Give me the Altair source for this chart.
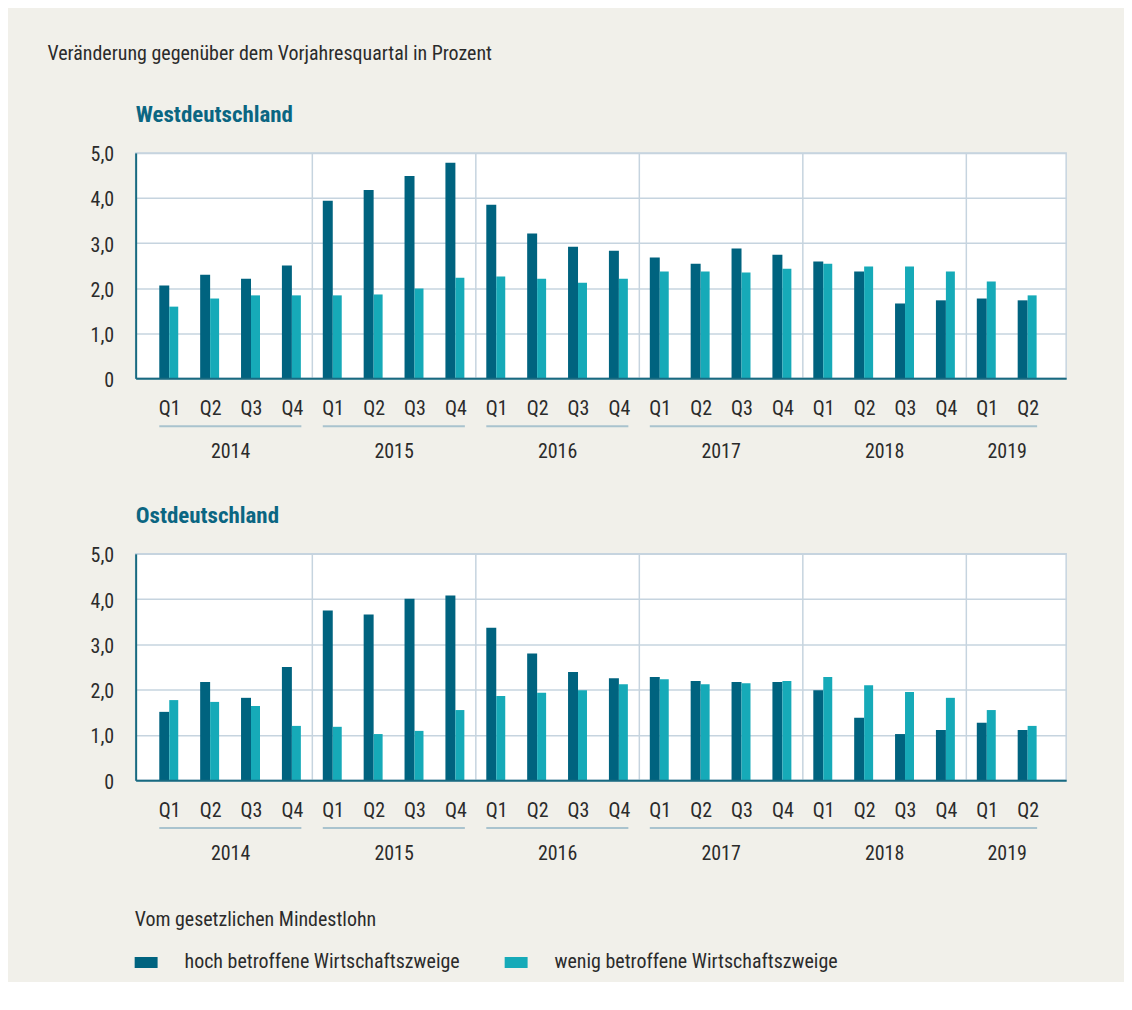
import altair as alt
import pandas as pd

# ---- data ----
years = ["2014"] * 4 + ["2015"] * 4 + ["2016"] * 4 + ["2017"] * 4 + ["2018"] * 4 + ["2019"] * 2
quarters = ["Q1", "Q2", "Q3", "Q4"] * 5 + ["Q1", "Q2"]

west_hoch = [2.06, 2.30, 2.21, 2.50, 3.94, 4.18, 4.49, 4.78, 3.85, 3.21, 2.92, 2.83,
             2.68, 2.54, 2.88, 2.74, 2.59, 2.37, 1.66, 1.73, 1.77, 1.73]
west_wenig = [1.59, 1.77, 1.84, 1.84, 1.84, 1.86, 1.99, 2.23, 2.26, 2.21, 2.12, 2.21,
              2.37, 2.37, 2.35, 2.43, 2.54, 2.48, 2.48, 2.37, 2.15, 1.84]
ost_hoch = [1.51, 2.17, 1.82, 2.50, 3.75, 3.66, 4.01, 4.08, 3.37, 2.80, 2.39, 2.25,
            2.28, 2.19, 2.17, 2.17, 1.99, 1.38, 1.02, 1.11, 1.27, 1.11]
ost_wenig = [1.77, 1.73, 1.64, 1.20, 1.18, 1.02, 1.09, 1.55, 1.86, 1.93, 1.99, 2.12,
             2.23, 2.12, 2.14, 2.19, 2.28, 2.10, 1.95, 1.82, 1.55, 1.20]

series_names = ["hoch betroffene Wirtschaftszweige", "wenig betroffene Wirtschaftszweige"]
y_ticks = [0, 1, 2, 3, 4, 5]
underline_groups = [["2014"], ["2015"], ["2016"], ["2017", "2018", "2019"]]

main_title = "Veränderung gegenüber dem Vorjahresquartal in Prozent"
panel_titles = ["Westdeutschland", "Ostdeutschland"]
legend_title = "Vom gesetzlichen Mindestlohn"

# ---- style ----
FONT = "Roboto Condensed, Roboto, sans-serif"
DARK = "#00637f"
LIGHT = "#16aab8"
TITLE_C = "#0b6682"
TEXT = "#2b2b2b"
GRID = "#c6d4df"
ULINE = "#a9c3ce"
AXIS_C = "#186a80"
BG = "#f1f0ea"
W = 933

n = len(quarters)
q_expr = "[" + ",".join("'%s'" % q for q in quarters) + "][datum.value]"
y_expr = "datum.value == 0 ? '0' : replace(format(datum.value, '.1f'), '.', ',')"

uniq_years = list(dict.fromkeys(years))
year_df = pd.DataFrame({
    "year": uniq_years,
    "mid": [sum(i for i in range(n) if years[i] == y) / years.count(y) for y in uniq_years],
})
sep_df = pd.DataFrame({"pos": [i - 0.5 for i in range(1, n) if years[i] != years[i - 1]]})
ul_df = pd.DataFrame({
    "start": [min(i for i in range(n) if years[i] in g) for g in underline_groups],
    "end": [max(i for i in range(n) if years[i] in g) for g in underline_groups],
})

xscale = alt.Scale(domain=[-0.7, n - 1 + 0.82], nice=False, zero=False)
color = alt.Color(
    "series:N",
    scale=alt.Scale(domain=series_names, range=[DARK, LIGHT]),
    legend=alt.Legend(
        title=legend_title, orient="none", legendX=-1, legendY=759,
        direction="horizontal", titleFont=FONT, titleFontSize=20, titleLimit=0,
        titleFontWeight="normal", titleColor=TEXT, titlePadding=21,
        labelFont=FONT, labelFontSize=20, labelColor=TEXT, labelLimit=0,
        symbolType="M-1,-0.478L1,-0.478L1,0.478L-1,0.478Z", symbolSize=529,
        symbolStrokeWidth=0, symbolOpacity=1, labelOffset=27, columnPadding=45,
    ),
)


def panel(title, hoch, wenig, h):
    df = pd.DataFrame({"idx": list(range(n)), "year": years, "quarter": quarters,
                       "hoch": hoch, "wenig": wenig})
    long = df.melt(id_vars=["idx", "year", "quarter"], value_vars=["hoch", "wenig"],
                   var_name="s", value_name="value")
    long["series"] = long["s"].map({"hoch": series_names[0], "wenig": series_names[1]})

    x = alt.X("idx:Q", scale=xscale, title=None,
              axis=alt.Axis(values=list(range(n)), labelExpr=q_expr, grid=False, ticks=False,
                            domainColor=AXIS_C, domainWidth=2, labelPadding=36,
                            labelBaseline="alphabetic", labelFont=FONT, labelFontSize=20,
                            labelColor=TEXT, zindex=1, labelFlush=False))
    y = alt.Y("value:Q", scale=alt.Scale(domain=[0, 5], nice=False), title=None,
              axis=alt.Axis(values=y_ticks, labelExpr=y_expr, grid=True, gridColor=GRID,
                            gridWidth=1.5, ticks=False, domainColor=AXIS_C, domainWidth=2,
                            labelPadding=22, labelFont=FONT, labelFontSize=20,
                            labelColor=TEXT, labelOffset=2))

    base = alt.Chart(long)
    dark = base.transform_filter(alt.datum.s == "hoch").mark_bar(
        orient="vertical", width=10, xOffset=-5).encode(x=x, y=y, color=color)
    light = base.transform_filter(alt.datum.s == "wenig").mark_bar(
        orient="vertical", width=9, xOffset=4.5).encode(x=x, y=y, color=color)
    seps = alt.Chart(sep_df).mark_rule(color=GRID, strokeWidth=1.5).encode(
        x=alt.X("pos:Q"), y=alt.value(0), y2=alt.value(h))
    ul = alt.Chart(ul_df).mark_rule(color=ULINE, strokeWidth=2, xOffset=-10, x2Offset=9.5).encode(
        x=alt.X("start:Q"), x2="end:Q", y=alt.value(h + 48))
    yl = alt.Chart(year_df).mark_text(baseline="alphabetic", font=FONT, fontSize=20,
                                      color=TEXT, dx=0).encode(
        x=alt.X("mid:Q"), y=alt.value(h + 80), text="year:N")

    return alt.layer(dark, light, seps, ul, yl).properties(
        width=W, height=h,
        title=alt.TitleParams(title, anchor="start", frame="group", font=FONT, fontSize=23,
                              fontWeight="bold", color=TITLE_C, baseline="alphabetic", offset=0),
    )


west = panel(panel_titles[0], west_hoch, west_wenig, 226)
east = panel(panel_titles[1], ost_hoch, ost_wenig, 227)

chart = alt.vconcat(west, east, spacing=41).properties(
    title=alt.TitleParams(main_title, anchor="start", dx=-42, font=FONT, fontSize=20,
                          fontWeight="normal", color=TEXT, baseline="alphabetic", offset=23),
    background=BG,
    padding={"left": 39, "top": 35, "right": 57, "bottom": 8},
).configure_view(stroke=GRID, strokeWidth=1.5, fill="white")

chart.save("out.html", embed_options={"renderer": "svg", "actions": False})
